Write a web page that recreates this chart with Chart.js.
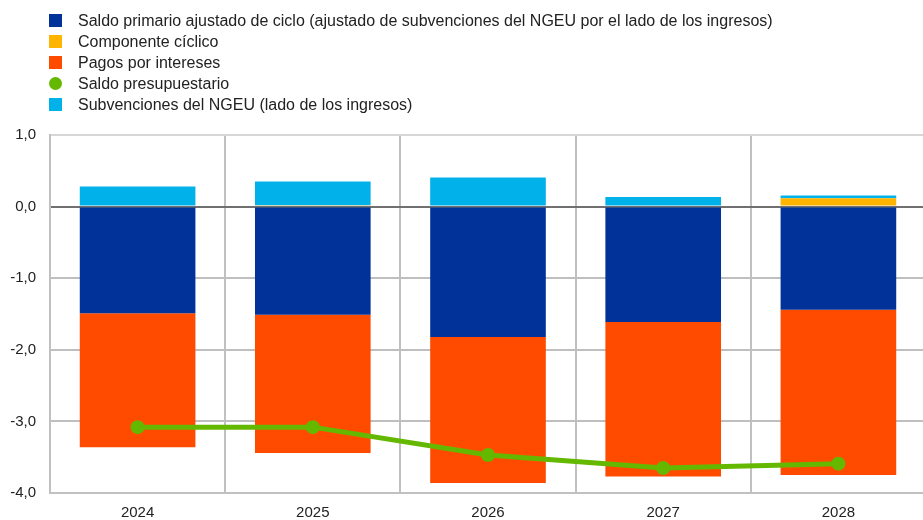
<!DOCTYPE html>
<html>
<head>
<meta charset="utf-8">
<script src="https://cdn.jsdelivr.net/npm/chart.js@4.4.1/dist/chart.umd.min.js"></script>
<style>
html,body{margin:0;padding:0;overflow:hidden;background:#fff;width:923px;height:520px;}
#wrap{position:absolute;left:0;top:0;width:933px;height:520px;}
#legend{position:absolute;left:0;top:0;font-family:"Liberation Sans",Arial,sans-serif;font-size:16px;color:#222;}
.item{position:absolute;left:49px;white-space:nowrap;height:21px;line-height:21px;}
.sw{position:absolute;left:0;top:4px;width:13px;height:13px;}
.tx{position:absolute;left:29px;top:0;}
</style>
</head>
<body>
<div id="wrap"><canvas id="c" width="933" height="520" style="width:933px;height:520px;"></canvas></div>
<div id="legend"></div>
<script>
const categories = ['2024','2025','2026','2027','2028'];
const capb = [-1.49, -1.51, -1.82, -1.61, -1.44];
const cyclical = [0.0, 0.02, 0.0, 0.0, 0.115];
const interest = [-1.87, -1.93, -2.04, -2.16, -2.31];
const ngeu = [0.28, 0.33, 0.405, 0.135, 0.04];
const budget = [-3.08, -3.08, -3.47, -3.65, -3.59];
const yTicks = [1, 0, -1, -2, -3, -4];

const names = [
  'Saldo primario ajustado de ciclo (ajustado de subvenciones del NGEU por el lado de los ingresos)',
  'Componente cíclico',
  'Pagos por intereses',
  'Saldo presupuestario',
  'Subvenciones del NGEU (lado de los ingresos)'
];
const colors = ['#003299', '#FFB400', '#FF4B00', '#65B800', '#00B1EA'];

const leg = document.getElementById('legend');
names.forEach((n, i) => {
  const d = document.createElement('div');
  d.className = 'item';
  d.style.top = (10 + i * 21) + 'px';
  const sw = document.createElement('span');
  sw.className = 'sw';
  sw.style.background = colors[i];
  if (i === 3) sw.style.borderRadius = '50%';
  const t = document.createElement('span');
  t.className = 'tx';
  t.textContent = n;
  d.appendChild(sw); d.appendChild(t);
  leg.appendChild(d);
});

const barOpts = {barPercentage: 0.66, categoryPercentage: 1.0, borderWidth: 0, stack: 's'};

new Chart(document.getElementById('c'), {
  type: 'bar',
  data: {
    labels: categories,
    datasets: [
      {label: names[3], type: 'line', data: budget, borderColor: colors[3], backgroundColor: colors[3],
        borderWidth: 5, pointRadius: 7, pointHoverRadius: 7, pointBackgroundColor: colors[3], pointBorderWidth: 0, order: 0},
      Object.assign({label: names[0], data: capb, backgroundColor: colors[0], order: 1}, barOpts),
      Object.assign({label: names[1], data: cyclical, backgroundColor: colors[1], order: 1}, barOpts),
      Object.assign({label: names[2], data: interest, backgroundColor: colors[2], order: 1}, barOpts),
      Object.assign({label: names[4], data: ngeu, backgroundColor: colors[4], order: 1}, barOpts)
    ]
  },
  options: {
    responsive: false,
    maintainAspectRatio: false,
    animation: false,
    layout: {padding: {top: 135, right: 1, left: 0, bottom: 0}},
    plugins: {legend: {display: false}, tooltip: {enabled: false}},
    scales: {
      x: {
        stacked: true,
        offset: true,
        grid: {offset: true, color: '#c0c0c0', lineWidth: 2, drawTicks: false},
        border: {display: true, color: '#c0c0c0', width: 2},
        ticks: {color: '#222', font: {family: 'Liberation Sans', size: 15}, padding: 11},
        afterFit: s => { s.height = 27; }
      },
      y: {
        stacked: true,
        min: -4, max: 1,
        afterBuildTicks: s => { s.ticks = yTicks.map(v => ({value: v})); },
        grid: {
          color: c => c.tick && c.tick.value === 0 ? '#707070' : (c.tick && c.tick.value === 1 ? '#d6d6d6' : '#bfbfbf'),
          lineWidth: 2, drawTicks: false
        },
        border: {display: true, color: '#c0c0c0', width: 2},
        ticks: {color: '#222', font: {family: 'Liberation Sans', size: 15}, padding: 14,
          callback: v => v.toFixed(1).replace('.', ',')},
        afterFit: s => { s.width = 50; }
      }
    }
  }
});
</script>
</body>
</html>
